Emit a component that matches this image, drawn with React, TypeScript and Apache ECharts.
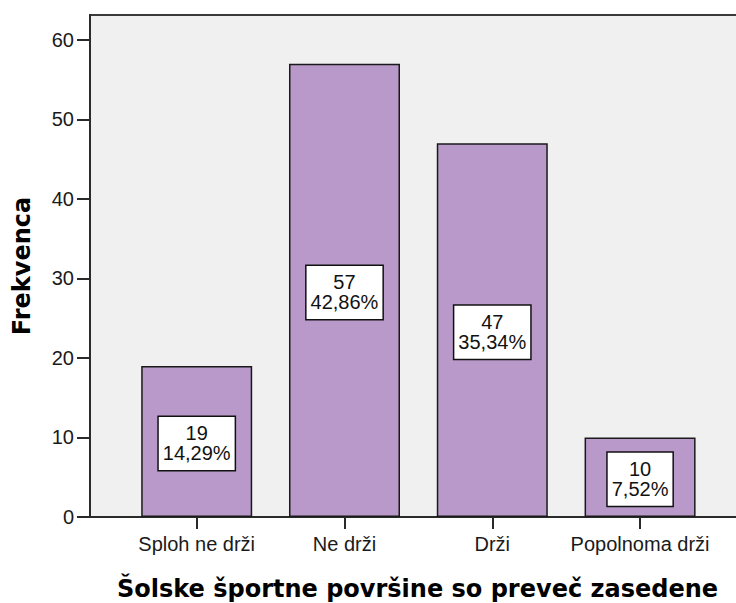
import React, { useEffect, useRef } from "react";
import * as echarts from "echarts";

const categories = ["Sploh ne drži", "Ne drži", "Drži", "Popolnoma drži"];
const counts = [19, 57, 47, 10];
const percents = ["14,29%", "42,86%", "35,34%", "7,52%"];
const yTicks = [0, 10, 20, 30, 40, 50, 60];
const xTitle = "Šolske športne površine so preveč zasedene";
const yTitle = "Frekvenca";

export default function App() {
  const ref = useRef<HTMLDivElement>(null);
  useEffect(() => {
    if (!ref.current) return;
    const chart = echarts.init(ref.current, null, { renderer: "svg" });
    const pos = categories.map((_, i) => i);
    const tickFont = "'Liberation Sans', Arial, sans-serif";
    chart.setOption({
      animation: false,
      grid: {
        left: 90,
        top: 15,
        right: -9,
        bottom: 86,
        outerBoundsMode: "none",
        containLabel: false,
        show: true,
        backgroundColor: "#f0f0f0",
        borderColor: "#3a3a3a",
        borderWidth: 2,
      },
      xAxis: {
        type: "value",
        min: -0.722,
        max: 3.71,
        name: xTitle,
        nameLocation: "middle",
        nameGap: 59,
        nameTextStyle: {
          fontFamily: "DejaVu Sans",
          fontWeight: "bold",
          fontSize: 24,
          lineHeight: 26,
          color: "#000",
        },
        splitLine: { show: false },
        axisLine: { show: true, onZero: false, lineStyle: { color: "#2a2a2a", width: 2 } },
        axisTick: {
          show: true,
          customValues: pos,
          length: 12,
          lineStyle: { color: "#2a2a2a", width: 2 },
        },
        axisLabel: {
          customValues: pos,
          formatter: (v: number) => categories[Math.round(v)] ?? "",
          margin: 17,
          fontFamily: tickFont,
          fontSize: 20,
          color: "#1a1a1a",
        },
      },
      yAxis: {
        type: "value",
        min: 0,
        max: 63.14,
        name: yTitle,
        nameLocation: "middle",
        nameGap: 56,
        nameTextStyle: {
          fontFamily: "DejaVu Sans",
          fontWeight: "bold",
          fontSize: 24,
          color: "#000",
        },
        splitLine: { show: false },
        axisLine: { show: true, onZero: false, lineStyle: { color: "#2a2a2a", width: 2 } },
        axisTick: {
          show: true,
          customValues: yTicks,
          length: 13,
          lineStyle: { color: "#2a2a2a", width: 2 },
        },
        axisLabel: {
          customValues: yTicks,
          margin: 16,
          fontFamily: tickFont,
          fontSize: 20,
          color: "#1a1a1a",
        },
      },
      series: [
        {
          type: "bar",
          data: counts.map((c, i) => [i, c]),
          barWidth: 111,
          itemStyle: { color: "#b899c9", borderColor: "#1a1a1a", borderWidth: 1.5 },
          label: {
            show: true,
            position: "inside",
            offset: [0, 2],
            formatter: (p: any) => `${counts[p.dataIndex]}\n${percents[p.dataIndex]}`,
            fontFamily: tickFont,
            fontSize: 20,
            lineHeight: 20,
            color: "#111",
            backgroundColor: "#fff",
            borderColor: "#111",
            borderWidth: 1.5,
            padding: [6, 4, 7, 4],
            align: "center",
          },
        },
      ],
    });
    return () => chart.dispose();
  }, []);
  return (
    <div
      ref={ref}
      style={{ position: "fixed", left: 0, top: 0, width: 736, height: 603, background: "#fff" }}
    />
  );
}
